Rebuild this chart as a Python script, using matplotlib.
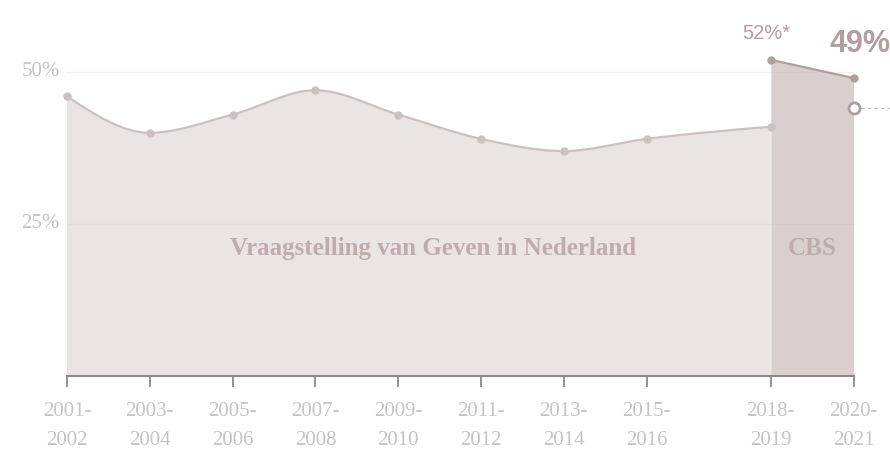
import numpy as np
import matplotlib
matplotlib.use("Agg")
import matplotlib.pyplot as plt
from matplotlib.path import Path
from matplotlib.patches import PathPatch

# survey periods (mid-year of each two-year period)
periods = [2001.5, 2003.5, 2005.5, 2007.5, 2009.5, 2011.5, 2013.5, 2015.5, 2018.5]
period_labels = ["2001-\n2002", "2003-\n2004", "2005-\n2006", "2007-\n2008", "2009-\n2010",
                 "2011-\n2012", "2013-\n2014", "2015-\n2016", "2018-\n2019", "2020-\n2021"]
giving_nl = [46, 40, 43, 47, 43, 39, 37, 39, 41]

cbs_periods = [2018.5, 2020.5]
cbs_values = [52, 49]
open_point = (2020.5, 44)

tick_positions = periods + [2020.5]

SERIF = ["Liberation Serif", "DejaVu Serif"]
SANS = ["Liberation Sans", "DejaVu Sans"]


def monotone_path(xs, ys):
    """Cubic bezier path through the points, like d3.curveMonotoneX."""
    xs = np.asarray(xs, float)
    ys = np.asarray(ys, float)
    n = len(xs)
    h = np.diff(xs)
    s = np.diff(ys) / h
    t = np.zeros(n)
    for i in range(1, n - 1):
        p = (s[i - 1] * h[i] + s[i] * h[i - 1]) / (h[i - 1] + h[i])
        t[i] = (np.sign(s[i - 1]) + np.sign(s[i])) * min(abs(s[i - 1]), abs(s[i]), 0.5 * abs(p))
    t[0] = (3 * s[0] - t[1]) / 2
    t[-1] = (3 * s[-1] - t[-2]) / 2
    verts = [(xs[0], ys[0])]
    codes = [Path.MOVETO]
    for i in range(n - 1):
        dx = h[i] / 3
        verts += [(xs[i] + dx, ys[i] + dx * t[i]),
                  (xs[i + 1] - dx, ys[i + 1] - dx * t[i + 1]),
                  (xs[i + 1], ys[i + 1])]
        codes += [Path.CURVE4] * 3
    return verts, codes


fig = plt.figure(figsize=(8.9, 4.51), dpi=100)
ax = fig.add_axes([0, 75 / 451, 1, 376 / 451])
px_per_year = 41.4
x0 = 2001.5 - 67 / px_per_year
ax.set_xlim(x0, x0 + 890 / px_per_year)
ax.set_ylim(0, 376 / 6.08)

for side in ["top", "right", "left"]:
    ax.spines[side].set_visible(False)
ax.spines["bottom"].set_bounds(tick_positions[0], tick_positions[-1])
ax.spines["bottom"].set_color("#8a8a8a")
ax.spines["bottom"].set_linewidth(1.5)
ax.set_yticks([])
ax.set_xticks(tick_positions)
ax.set_xticklabels(period_labels, fontfamily=SERIF, fontsize=15, color="#c4c4c4", linespacing=1.7)
ax.tick_params(axis="x", direction="out", length=8, width=1.3, color="#8a8a8a", pad=11)

# gridlines
for v in [25, 50]:
    ax.plot([tick_positions[0], tick_positions[-1]], [v, v], color="#c8bcbc", alpha=0.22, lw=1, zorder=4)
    ax.text(x0 + 60 / px_per_year, v, f"{v}%", ha="right", va="center",
            fontfamily=SERIF, fontsize=15, color="#c4c4c4")

# main series area + curve
verts, codes = monotone_path(periods, giving_nl)
fill_verts = verts + [(periods[-1], 0), (periods[0], 0), verts[0]]
fill_codes = codes + [Path.LINETO, Path.LINETO, Path.CLOSEPOLY]
ax.add_patch(PathPatch(Path(fill_verts, fill_codes), facecolor="#ebe4e4", edgecolor="none", zorder=1))
ax.add_patch(PathPatch(Path(verts, codes), facecolor="none", edgecolor="#cdc1c0", lw=1.6, zorder=3))
ax.plot(periods, giving_nl, "o", color="#cdc1c0", ms=5, zorder=5)

# CBS series
ax.fill_between(cbs_periods, cbs_values, 0, color="#d9cfcf", lw=0, zorder=2)
ax.plot(cbs_periods, cbs_values, "-o", color="#b39e9e", lw=1.6, ms=5, zorder=5)
ax.plot([open_point[0], x0 + 890 / px_per_year], [open_point[1]] * 2, ls=(0, (3, 3)),
        color="#c4b4b4", lw=0.8, zorder=4)
ax.plot(*open_point, "o", mfc="white", mec="#b39e9e", mew=2, ms=8, zorder=6)

ax.text(2018.4, 56.4, "52%*", ha="center", va="center", fontfamily=SANS, fontsize=14.5, color="#b39e9e")
ax.text(2020.65, 54.6, "49%", ha="center", va="center", fontfamily=SANS, fontsize=22,
        fontweight="bold", color="#b39e9e")

ax.text(2010.35, 21, "Vraagstelling van Geven in Nederland", ha="center", va="center",
        fontfamily=SERIF, fontsize=18, fontweight="bold", color="#c0acac", zorder=6)
ax.text(2019.5, 21, "CBS", ha="center", va="center",
        fontfamily=SERIF, fontsize=18, fontweight="bold", color="#c0acac", zorder=6)

fig.savefig("out.png", dpi=100)
